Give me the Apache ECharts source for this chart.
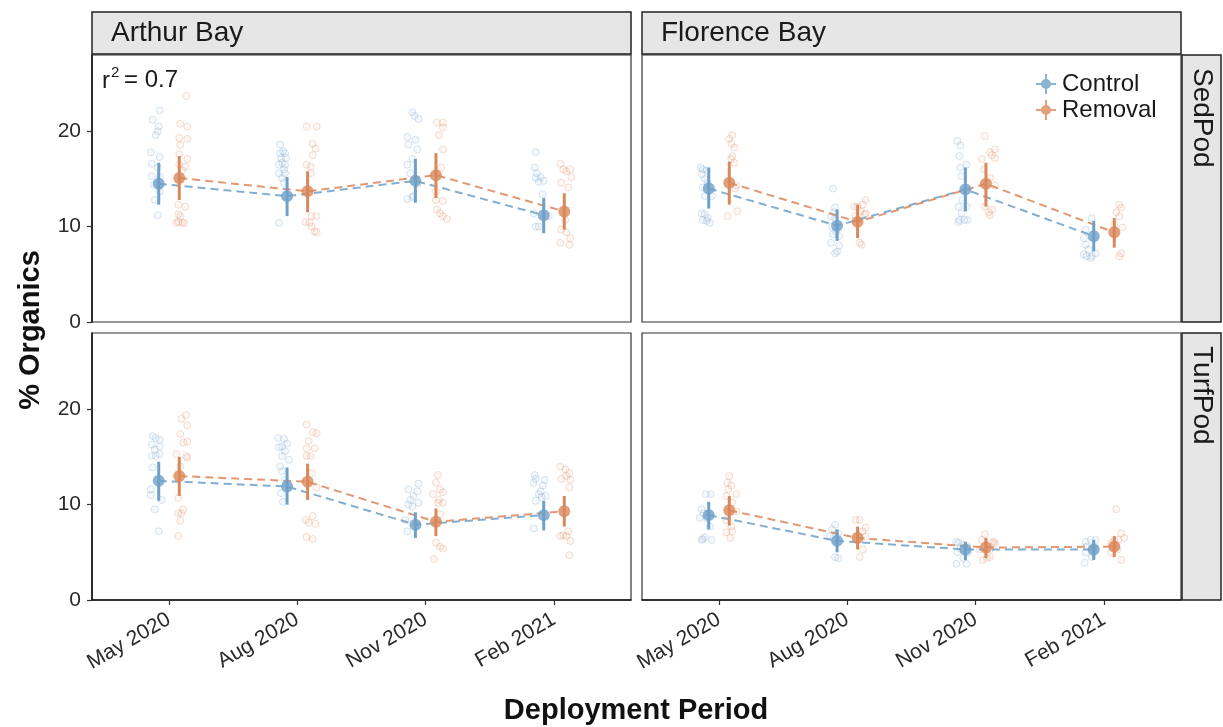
<!DOCTYPE html>
<html>
<head>
<meta charset="utf-8">
<script src="https://cdn.jsdelivr.net/npm/echarts@6/dist/echarts.min.js"></script>
<style>
  html, body { margin: 0; padding: 0; background: #fff; }
  #chart { width: 1223px; height: 727px; }
</style>
</head>
<body>
<div id="chart"></div>
<script>
const periods = ["May 2020", "Aug 2020", "Nov 2020", "Feb 2021"];
const sites = ["Arthur Bay", "Florence Bay"];
const pods = ["SedPod", "TurfPod"];
const treatments = ["Control", "Removal"];
const yTicks = [0, 10, 20];

// [mean, lower, upper] for each period
const arthurSedCtrl = [[14.5, 12.3, 16.7], [13.2, 11.1, 15.2], [14.8, 12.5, 17.1], [11.2, 9.3, 13.0]];
const arthurSedRem = [[15.1, 12.8, 17.4], [13.7, 11.5, 15.8], [15.4, 13.0, 17.7], [11.6, 9.7, 13.5]];
const florenceSedCtrl = [[14.0, 11.9, 16.2], [10.1, 8.5, 11.8], [13.9, 11.6, 16.2], [9.0, 7.4, 10.6]];
const florenceSedRem = [[14.6, 12.3, 16.8], [10.5, 8.8, 12.3], [14.5, 12.1, 16.7], [9.4, 7.8, 10.9]];
const arthurTurfCtrl = [[12.5, 10.4, 14.5], [11.9, 10.0, 13.9], [7.9, 6.5, 9.2], [8.9, 7.3, 10.4]];
const arthurTurfRem = [[13.0, 10.9, 15.0], [12.4, 10.5, 14.3], [8.2, 6.7, 9.6], [9.3, 7.7, 10.9]];
const florenceTurfCtrl = [[8.9, 7.4, 10.3], [6.2, 5.0, 7.4], [5.3, 4.2, 6.1], [5.3, 4.2, 6.3]];
const florenceTurfRem = [[9.4, 7.8, 10.9], [6.5, 5.3, 7.7], [5.5, 4.4, 6.5], [5.6, 4.5, 6.7]];

// raw samples per period: [jitter (1/128 of a period), % organics]
const arthurSedCtrlPts = [
  [[1, 22.2], [-6, 21.2], [0, 20.5], [-1, 20.0], [-3, 19.6], [-8, 17.8], [1, 17.3], [-7, 16.6], [-1, 16.2], [-7, 15.3], [1, 15.2], [-5, 14.4], [1, 13.7], [-4, 12.8], [-1, 11.2]],
  [[-7, 18.6], [-4, 17.9], [-7, 17.7], [-2, 17.7], [-6, 17.2], [-1, 17.2], [-5, 16.7], [-8, 16.5], [-2, 16.5], [-3, 16.0], [-8, 15.6], [-2, 15.6], [-5, 15.1], [-3, 14.6], [-8, 10.4]],
  [[-3, 22.0], [-1, 21.6], [3, 21.3], [-8, 19.4], [-7, 18.6], [0, 19.1], [2, 18.1], [-3, 17.1], [-8, 16.5], [-5, 15.6], [-2, 13.2], [-8, 12.9], [-3, 13.1], [2, 14.5]],
  [[-8, 17.8], [-9, 16.2], [-7, 15.6], [-8, 15.1], [-3, 15.2], [0, 14.8], [-5, 14.7], [-1, 13.4], [-10, 11.4], [5, 11.1], [-5, 10.0], [-8, 10.0]]
];
const arthurSedRemPts = [
  [[7, 23.7], [1, 20.8], [8, 20.5], [0, 19.3], [8, 19.2], [1, 18.6], [0, 17.6], [8, 17.1], [0, 16.5], [6, 16.3], [3, 15.9], [-1, 12.3], [6, 12.1], [-1, 11.3], [1, 11.1], [-1, 10.5], [3, 10.4], [-3, 10.4], [5, 10.4]],
  [[-1, 20.5], [9, 20.5], [5, 18.7], [8, 18.2], [5, 17.5], [-1, 16.5], [3, 16.3], [3, 15.6], [4, 11.1], [9, 11.1], [-2, 10.5], [2, 10.4], [4, 10.0], [7, 9.5], [9, 9.4]],
  [[1, 20.9], [7, 20.9], [7, 20.4], [3, 19.6], [7, 18.1], [5, 16.2], [0, 13.7], [7, 12.7], [0, 12.8], [1, 11.8], [4, 11.4], [7, 11.1], [11, 10.8]],
  [[-4, 16.6], [-1, 16.0], [2, 15.8], [6, 16.0], [7, 15.2], [-3, 14.6], [4, 14.1], [1, 10.7], [-3, 9.7], [2, 9.4], [6, 8.8], [-4, 8.3], [5, 8.1]]
];
const florenceSedCtrlPts = [
  [[-8, 16.2], [-6, 16.0], [-2, 15.9], [-7, 15.5], [-4, 15.0], [-1, 14.6], [-6, 14.1], [3, 14.0], [-4, 13.2], [3, 13.2], [-7, 11.4], [-4, 11.3], [-1, 10.9], [-6, 10.7], [-2, 10.6], [1, 10.4]],
  [[-4, 14.0], [-2, 12.0], [-3, 11.5], [-6, 11.1], [-2, 10.9], [-5, 10.0], [-1, 9.5], [-4, 9.2], [2, 9.0], [-6, 8.3], [2, 8.0], [0, 7.4], [-2, 7.2]],
  [[-8, 19.0], [-5, 18.5], [-6, 17.4], [1, 16.5], [-5, 16.2], [-4, 15.3], [-3, 12.8], [-7, 12.1], [1, 12.1], [-4, 11.4], [-6, 10.7], [-1, 10.7], [-7, 10.5], [2, 10.7]],
  [[-2, 10.9], [-8, 9.7], [-10, 8.8], [-8, 8.1], [-5, 7.6], [-10, 7.1], [-7, 6.9], [-2, 6.9], [2, 7.2], [-3, 6.7]]
];
const florenceSedRemPts = [
  [[3, 19.6], [0, 19.2], [2, 18.7], [5, 18.3], [3, 17.4], [2, 17.1], [5, 16.7], [7, 14.3], [6, 14.0], [8, 11.6], [-2, 11.1]],
  [[8, 12.8], [5, 12.3], [-3, 12.1], [0, 12.1], [3, 11.6], [8, 11.4], [7, 11.3], [-2, 11.1], [2, 8.3], [4, 8.1]],
  [[-1, 19.5], [9, 18.1], [4, 17.8], [6, 17.5], [9, 17.2], [-4, 17.1], [-2, 16.0], [4, 15.1], [9, 14.3], [-1, 12.1], [6, 11.8], [3, 11.5], [4, 11.2]],
  [[5, 12.3], [7, 12.0], [2, 11.5], [5, 11.1], [0, 10.2], [8, 9.9], [7, 7.2], [5, 6.9]]
];
const arthurTurfCtrlPts = [
  [[-6, 17.2], [-3, 17.0], [1, 16.8], [-7, 16.3], [1, 16.1], [-4, 15.8], [1, 15.3], [-7, 15.1], [-3, 15.1], [-6, 13.9], [-8, 11.6], [-8, 11.0], [3, 10.5], [-4, 9.5], [0, 7.2]],
  [[-9, 17.0], [-3, 16.9], [0, 16.4], [-5, 16.1], [-8, 16.0], [-2, 15.6], [-5, 15.1], [2, 14.7], [-7, 14.0], [-5, 13.5], [-2, 12.6], [-6, 11.2], [-4, 10.3]],
  [[3, 12.2], [-7, 11.6], [2, 11.4], [-2, 10.9], [-5, 10.5], [3, 10.2], [-7, 10.0], [-3, 9.8], [-10, 8.4], [2, 7.8], [-8, 7.2]],
  [[-9, 13.1], [-8, 12.7], [1, 12.6], [-10, 12.3], [-1, 12.0], [-3, 11.4], [-5, 11.1], [2, 10.9], [-2, 10.8], [-8, 10.4], [-10, 7.5]]
];
const arthurTurfRemPts = [
  [[7, 19.4], [2, 19.0], [8, 18.3], [1, 17.4], [8, 16.6], [4, 16.5], [-3, 15.3], [7, 15.1], [8, 14.9], [1, 14.0], [-1, 10.7], [4, 9.5], [2, 9.1], [-1, 9.1], [1, 8.3], [-1, 6.7]],
  [[-1, 18.4], [5, 17.6], [9, 17.5], [1, 16.7], [-1, 15.9], [7, 15.9], [-1, 15.1], [3, 15.1], [4, 13.3], [9, 11.8], [5, 8.8], [-2, 8.4], [1, 8.1], [8, 8.0], [-1, 6.6], [5, 6.4]],
  [[2, 13.1], [0, 12.3], [4, 11.6], [7, 11.3], [-3, 11.1], [3, 10.5], [7, 10.2], [2, 10.2], [4, 9.0], [0, 6.0], [4, 5.6], [7, 5.4], [-2, 4.3]],
  [[-4, 14.0], [1, 13.7], [5, 13.3], [2, 13.0], [-3, 12.7], [6, 12.6], [5, 11.8], [4, 7.2], [-1, 6.8], [-4, 6.7], [2, 6.7], [6, 6.2], [5, 4.7]]
];
const florenceTurfCtrlPts = [
  [[-3, 11.1], [2, 11.1], [-7, 9.5], [-5, 9.1], [1, 9.1], [-9, 8.6], [-2, 8.6], [1, 7.7], [-4, 6.6], [-6, 6.4], [3, 6.3], [-7, 6.3]],
  [[-2, 7.9], [-5, 7.4], [1, 7.0], [-7, 6.7], [-3, 6.5], [-1, 6.3], [-2, 4.5], [1, 4.4]],
  [[-9, 6.1], [-7, 6.0], [-2, 5.8], [2, 5.6], [-5, 5.4], [-8, 5.0], [3, 5.0], [-2, 4.4], [-9, 3.8], [1, 3.8]],
  [[-8, 6.1], [-3, 6.3], [2, 6.3], [-7, 5.6], [-2, 5.3], [-8, 5.0], [0, 5.0], [-2, 4.5], [-9, 3.9]]
];
const florenceTurfRemPts = [
  [[0, 13.0], [-2, 12.3], [2, 12.0], [-1, 11.6], [7, 11.1], [-3, 10.9], [3, 10.2], [7, 9.3], [-3, 8.4], [2, 7.7], [3, 7.2], [-3, 7.1], [1, 6.5]],
  [[-2, 8.4], [2, 8.4], [8, 7.6], [5, 7.2], [8, 6.7], [-2, 6.7], [5, 5.3], [2, 4.5]],
  [[-1, 6.9], [-4, 6.3], [8, 6.1], [6, 6.0], [9, 5.9], [4, 5.3], [-6, 5.3], [4, 4.5], [1, 4.4], [-3, 4.2]],
  [[2, 9.5], [7, 7.0], [10, 6.5], [4, 6.3], [0, 6.2], [-3, 6.0], [0, 5.6], [3, 5.3], [-3, 5.0], [7, 4.2]]
];

const r2Text = "0.7";

const CTRL_RGB = "111,160,200";
const REM_RGB = "218,135,90";
const DODGE = 0.08; // half the dodge width, in periods
const JITTER_UNIT = 1 / 128; // jitter offsets are stored in 1/128 of a period
const FONT = "Liberation Sans, Arial, Helvetica, sans-serif";

// panel layout (pixels), row = pod, column = site
const panelLeft = [92, 642];
const panelTop = [55, 333];
const panelW = 539;
const panelH = 267;

const panels = [
  { row: 0, col: 0, ctrl: arthurSedCtrl, rem: arthurSedRem, ctrlPts: arthurSedCtrlPts, remPts: arthurSedRemPts },
  { row: 0, col: 1, ctrl: florenceSedCtrl, rem: florenceSedRem, ctrlPts: florenceSedCtrlPts, remPts: florenceSedRemPts },
  { row: 1, col: 0, ctrl: arthurTurfCtrl, rem: arthurTurfRem, ctrlPts: arthurTurfCtrlPts, remPts: arthurTurfRemPts },
  { row: 1, col: 1, ctrl: florenceTurfCtrl, rem: florenceTurfRem, ctrlPts: florenceTurfCtrlPts, remPts: florenceTurfRemPts }
];

const grids = [];
const xAxes = [];
const yAxes = [];
const series = [];

function groupSeries(idx, name, rgb, summary, pts, offset) {
  const jitterData = [];
  pts.forEach((list, i) => {
    list.forEach(p => jitterData.push([i + 1 + offset + p[0] * JITTER_UNIT, p[1]]));
  });
  const meanData = summary.map((s, i) => [i + 1 + offset, s[0]]);
  const barData = summary.map((s, i) => [i + 1 + offset, s[1], s[2]]);
  const color = "rgb(" + rgb + ")";

  series.push({
    type: "scatter",
    name: "jitter-" + name,
    xAxisIndex: idx,
    yAxisIndex: idx,
    data: jitterData,
    symbol: "circle",
    symbolSize: 7,
    z: 1,
    silent: true,
    itemStyle: {
      color: "rgba(" + rgb + ",0.08)",
      borderColor: "rgba(" + rgb + ",0.32)",
      borderWidth: 1
    }
  });
  series.push({
    type: "line",
    name: "line-" + name,
    xAxisIndex: idx,
    yAxisIndex: idx,
    data: meanData,
    showSymbol: false,
    symbol: "none",
    z: 2,
    silent: true,
    lineStyle: { color: "rgba(" + rgb + ",0.85)", width: 2, type: [8, 5] }
  });
  series.push({
    type: "custom",
    name: "bar-" + name,
    xAxisIndex: idx,
    yAxisIndex: idx,
    data: barData,
    z: 3,
    silent: true,
    encode: { x: 0, y: [1, 2] },
    renderItem: (params, api) => {
      const lo = api.coord([api.value(0), api.value(1)]);
      const hi = api.coord([api.value(0), api.value(2)]);
      return {
        type: "line",
        shape: { x1: lo[0], y1: lo[1], x2: hi[0], y2: hi[1] },
        style: { stroke: color, lineWidth: 3 }
      };
    }
  });
  series.push({
    type: "scatter",
    name: name,
    xAxisIndex: idx,
    yAxisIndex: idx,
    data: meanData,
    symbol: "circle",
    symbolSize: 12,
    z: 4,
    itemStyle: { color: color }
  });
}

panels.forEach((p, idx) => {
  grids.push({
    left: panelLeft[p.col],
    top: panelTop[p.row],
    width: panelW,
    height: panelH,
    show: true,
    backgroundColor: "#fff",
    borderColor: "#333",
    borderWidth: 1.2
  });
  const bottomRow = p.row === 1;
  const leftCol = p.col === 0;
  xAxes.push({
    type: "value",
    gridIndex: idx,
    min: 0.4,
    max: 4.6,
    splitLine: { show: false },
    axisLine: { show: bottomRow, onZero: false, lineStyle: { color: "#111", width: 1.5 } },
    axisTick: { show: bottomRow, customValues: [1, 2, 3, 4], length: 5, lineStyle: { color: "#333", width: 1.2 } },
    axisLabel: {
      show: bottomRow,
      customValues: [1, 2, 3, 4],
      rotate: 30,
      margin: 18,
      fontSize: 21,
      color: "#2a2a2a",
      fontFamily: FONT,
      formatter: v => periods[Math.round(v) - 1]
    }
  });
  yAxes.push({
    type: "value",
    gridIndex: idx,
    min: 0,
    max: 28,
    splitLine: { show: false },
    axisLine: { show: leftCol, onZero: false, lineStyle: { color: "#111", width: 1.5 } },
    axisTick: { show: leftCol, customValues: yTicks, length: 5, lineStyle: { color: "#333", width: 1.2 } },
    axisLabel: {
      show: leftCol,
      customValues: yTicks,
      margin: 11,
      fontSize: 21,
      color: "#2a2a2a",
      fontFamily: FONT
    }
  });
  groupSeries(idx, treatments[0], CTRL_RGB, p.ctrl, p.ctrlPts, -DODGE);
  groupSeries(idx, treatments[1], REM_RGB, p.rem, p.remPts, DODGE);
});

// facet strips, axis titles and the r^2 note
const graphics = [];
sites.forEach((s, c) => {
  graphics.push({
    type: "rect",
    shape: { x: panelLeft[c], y: 12, width: panelW, height: 42 },
    style: { fill: "#e6e6e6", stroke: "#222", lineWidth: 1.5 },
    z: 10
  });
  graphics.push({
    type: "text",
    x: panelLeft[c] + 19,
    y: 33,
    style: { text: s, fontSize: 28, fontFamily: FONT, fill: "#1a1a1a", textAlign: "left", textVerticalAlign: "middle" },
    z: 11
  });
});
pods.forEach((s, r) => {
  graphics.push({
    type: "rect",
    shape: { x: 1182, y: panelTop[r], width: 39, height: panelH },
    style: { fill: "#e6e6e6", stroke: "#222", lineWidth: 1.5 },
    z: 10
  });
  graphics.push({
    type: "text",
    x: 1202,
    y: panelTop[r] + 13,
    rotation: -Math.PI / 2,
    style: { text: s, fontSize: 28, fontFamily: FONT, fill: "#1a1a1a", textAlign: "left", textVerticalAlign: "middle" },
    z: 11
  });
});
graphics.push({
  type: "text",
  x: 31,
  y: 330,
  rotation: Math.PI / 2,
  style: { text: "% Organics", fontSize: 29, fontWeight: "bold", fontFamily: FONT, fill: "#111", textAlign: "center", textVerticalAlign: "middle" },
  z: 11
});
graphics.push({
  type: "text",
  x: 636,
  y: 711,
  style: { text: "Deployment Period", fontSize: 29, fontWeight: "bold", fontFamily: FONT, fill: "#111", textAlign: "center", textVerticalAlign: "middle" },
  z: 11
});
graphics.push({
  type: "text", x: 102, y: 81,
  style: { text: "r", fontSize: 24, fontFamily: FONT, fill: "#1a1a1a", textAlign: "left", textVerticalAlign: "middle" },
  z: 11
});
graphics.push({
  type: "text", x: 111, y: 73,
  style: { text: "2", fontSize: 15, fontFamily: FONT, fill: "#1a1a1a", textAlign: "left", textVerticalAlign: "middle" },
  z: 11
});
graphics.push({
  type: "text", x: 124, y: 80,
  style: { text: "= " + r2Text, fontSize: 24, fontFamily: FONT, fill: "#1a1a1a", textAlign: "left", textVerticalAlign: "middle" },
  z: 11
});

const chart = echarts.init(document.getElementById("chart"), null, { renderer: "canvas" });
chart.setOption({
  animation: false,
  backgroundColor: "#fff",
  textStyle: { fontFamily: FONT },
  grid: grids,
  xAxis: xAxes,
  yAxis: yAxes,
  legend: {
    data: treatments,
    orient: "vertical",
    left: 1031,
    top: 67,
    itemWidth: 22,
    itemHeight: 20,
    itemGap: 2,
    icon: "path://M9,0h2v20h-2z M0,9h20v2h-20z M5,10a5,5 0 1,1 10,0a5,5 0 1,1 -10,0z",
    textStyle: { fontSize: 24, color: "#1a1a1a", fontFamily: FONT },
    selectedMode: false
  },
  graphic: graphics,
  series: series
});
</script>
</body>
</html>
